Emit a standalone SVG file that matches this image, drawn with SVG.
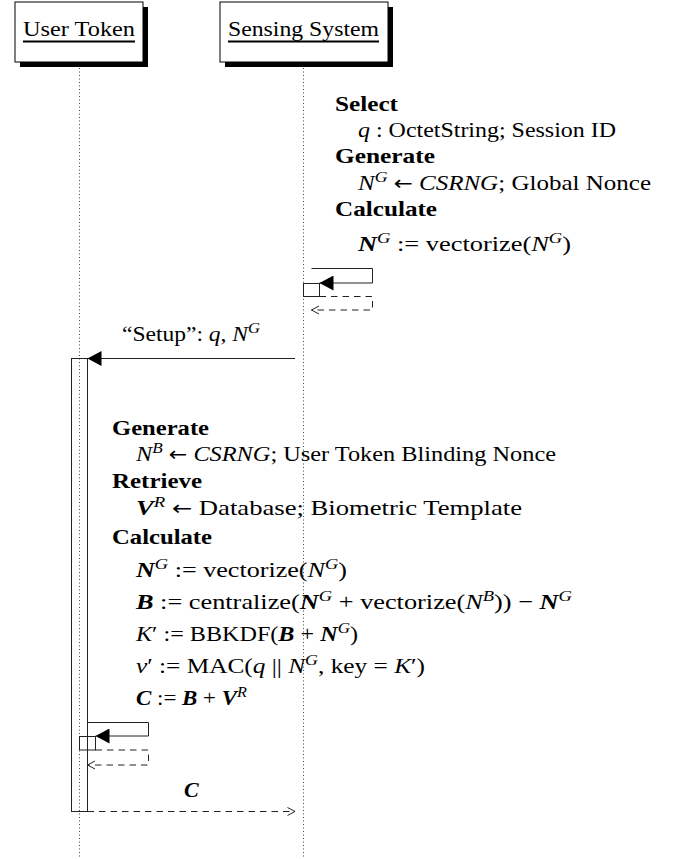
<svg xmlns="http://www.w3.org/2000/svg" width="673" height="859" viewBox="0 0 673 859">
<style>
text{font-family:"Liberation Serif","Times New Roman",serif;font-size:22px;fill:#000}
.b{font-weight:bold}
.i{font-style:italic}
.bi{font-weight:bold;font-style:italic}
.sup{font-size:15.5px;font-style:italic;font-weight:normal}
.arr{font-family:"DejaVu Sans",sans-serif;font-size:20px}
.life{stroke:#444;stroke-width:1;stroke-dasharray:1 2.5;fill:none}
.ln{stroke:#222;stroke-width:1;fill:none}
.dash{stroke:#222;stroke-width:1;fill:none;stroke-dasharray:6.5 5}
.box{fill:#fff;stroke:#000;stroke-width:1}
.act{fill:none;stroke:#222;stroke-width:1}
</style>
<defs>
<marker id="fa" markerUnits="userSpaceOnUse" markerWidth="14" markerHeight="15" refX="14" refY="7.5" orient="auto">
<path d="M0,0 L14,7.5 L0,15 z" fill="#000"/>
</marker>
<marker id="oa" markerUnits="userSpaceOnUse" markerWidth="9" markerHeight="10" refX="8" refY="5" orient="auto">
<path d="M0.5,1 L8,5 L0.5,9" fill="none" stroke="#222" stroke-width="1"/>
</marker>
</defs>

<g id="lifelines">
<line class="life" x1="79.5" y1="68" x2="79.5" y2="859"/>
<line class="life" x1="303.5" y1="68" x2="303.5" y2="859"/>
</g>

<g id="user-token">
<rect x="20" y="7" width="128" height="60" fill="#000"/>
<rect class="box" x="15" y="2" width="128" height="60"/>
<text x="23" y="36" textLength="112" lengthAdjust="spacingAndGlyphs">User Token</text>
<line x1="23" y1="41.5" x2="135" y2="41.5" stroke="#000" stroke-width="1.8"/>
</g>

<g id="sensing-system">
<rect x="225" y="7" width="168" height="60" fill="#000"/>
<rect class="box" x="220" y="2" width="168" height="60"/>
<text x="228" y="36" textLength="151" lengthAdjust="spacingAndGlyphs">Sensing System</text>
<line x1="228" y1="41.5" x2="379" y2="41.5" stroke="#000" stroke-width="1.8"/>
</g>

<g id="sensing-actions">
<text class="b" x="335" y="111" textLength="63" lengthAdjust="spacingAndGlyphs">Select</text>
<text x="358" y="137" textLength="258" lengthAdjust="spacingAndGlyphs"><tspan class="i">q</tspan> : OctetString; Session ID</text>
<text class="b" x="335" y="163" textLength="100" lengthAdjust="spacingAndGlyphs">Generate</text>
<text x="358" y="190" textLength="293" lengthAdjust="spacingAndGlyphs"><tspan class="i">N</tspan><tspan class="sup" dy="-8.5">G</tspan><tspan dy="8.5"> </tspan><tspan class="arr">←</tspan> <tspan class="i">CSRNG</tspan>; Global Nonce</text>
<text class="b" x="335" y="216" textLength="102" lengthAdjust="spacingAndGlyphs">Calculate</text>
<text x="358" y="251" textLength="213" lengthAdjust="spacingAndGlyphs"><tspan class="bi">N</tspan><tspan class="sup" dy="-8.5">G</tspan><tspan dy="8.5"> := vectorize(</tspan><tspan class="i">N</tspan><tspan class="sup" dy="-8.5">G</tspan><tspan dy="8.5">)</tspan></text>
</g>

<g id="sensing-self-call">
<rect class="act" x="303.5" y="283.5" width="16" height="13"/>
</g>

<g id="user-activation">
<rect class="act" x="71.5" y="358.5" width="16" height="453"/>
<rect class="act" x="79.5" y="736.5" width="16" height="13.5"/>
</g>

<g id="user-actions">
<text class="b" x="112" y="435" textLength="97" lengthAdjust="spacingAndGlyphs">Generate</text>
<text x="136" y="461" textLength="420" lengthAdjust="spacingAndGlyphs"><tspan class="i">N</tspan><tspan class="sup" dy="-8.5">B</tspan><tspan dy="8.5"> </tspan><tspan class="arr">←</tspan> <tspan class="i">CSRNG</tspan>; User Token Blinding Nonce</text>
<text class="b" x="112" y="488" textLength="90" lengthAdjust="spacingAndGlyphs">Retrieve</text>
<text x="136" y="515" textLength="386" lengthAdjust="spacingAndGlyphs"><tspan class="bi">V</tspan><tspan class="sup" dy="-8.5">R</tspan><tspan dy="8.5"> </tspan><tspan class="arr">←</tspan> Database; Biometric Template</text>
<text class="b" x="112" y="544" textLength="100" lengthAdjust="spacingAndGlyphs">Calculate</text>
<text x="136" y="577" textLength="211" lengthAdjust="spacingAndGlyphs"><tspan class="bi">N</tspan><tspan class="sup" dy="-8.5">G</tspan><tspan dy="8.5"> := vectorize(</tspan><tspan class="i">N</tspan><tspan class="sup" dy="-8.5">G</tspan><tspan dy="8.5">)</tspan></text>
<text x="136" y="609" textLength="436" lengthAdjust="spacingAndGlyphs"><tspan class="bi">B</tspan> := centralize(<tspan class="bi">N</tspan><tspan class="sup" dy="-8.5">G</tspan><tspan dy="8.5"> + vectorize(</tspan><tspan class="i">N</tspan><tspan class="sup" dy="-8.5">B</tspan><tspan dy="8.5">)) − </tspan><tspan class="bi">N</tspan><tspan class="sup" dy="-8.5">G</tspan></text>
<text x="136" y="641" textLength="222" lengthAdjust="spacingAndGlyphs"><tspan class="i">K</tspan>′ := BBKDF(<tspan class="bi">B</tspan> + <tspan class="bi">N</tspan><tspan class="sup" dy="-8.5">G</tspan><tspan dy="8.5">)</tspan></text>
<text x="136" y="673" textLength="289" lengthAdjust="spacingAndGlyphs"><tspan class="i">v</tspan>′ := MAC(<tspan class="i">q</tspan> || <tspan class="i">N</tspan><tspan class="sup" dy="-8.5">G</tspan><tspan dy="8.5">, key = </tspan><tspan class="i">K</tspan>′)</text>
<text x="136" y="705" textLength="111" lengthAdjust="spacingAndGlyphs"><tspan class="bi">C</tspan> := <tspan class="bi">B</tspan> + <tspan class="bi">V</tspan><tspan class="sup" dy="-8.5">R</tspan></text>
</g>

<g id="connectors">
<path class="ln" d="M311.5,268.5 H372.5 V283 H319.5" marker-end="url(#fa)"/>
<path class="dash" d="M319.5,296.5 H372.5 V310 H311.5" marker-end="url(#oa)"/>
<path class="ln" d="M295,358.5 H87.5" marker-end="url(#fa)"/>
<text x="122" y="341" textLength="138" lengthAdjust="spacingAndGlyphs">“Setup”: <tspan class="i">q</tspan>, <tspan class="i">N</tspan><tspan class="sup" dy="-8.5">G</tspan></text>
<path class="ln" d="M87.5,722.5 H148.5 V736 H95.5" marker-end="url(#fa)"/>
<path class="dash" d="M95.5,750 H148.5 V765 H87.5" marker-end="url(#oa)"/>
<path class="dash" d="M87.5,811.5 H295" marker-end="url(#oa)"/>
<text class="bi" x="184" y="797">C</text>
</g>
</svg>
